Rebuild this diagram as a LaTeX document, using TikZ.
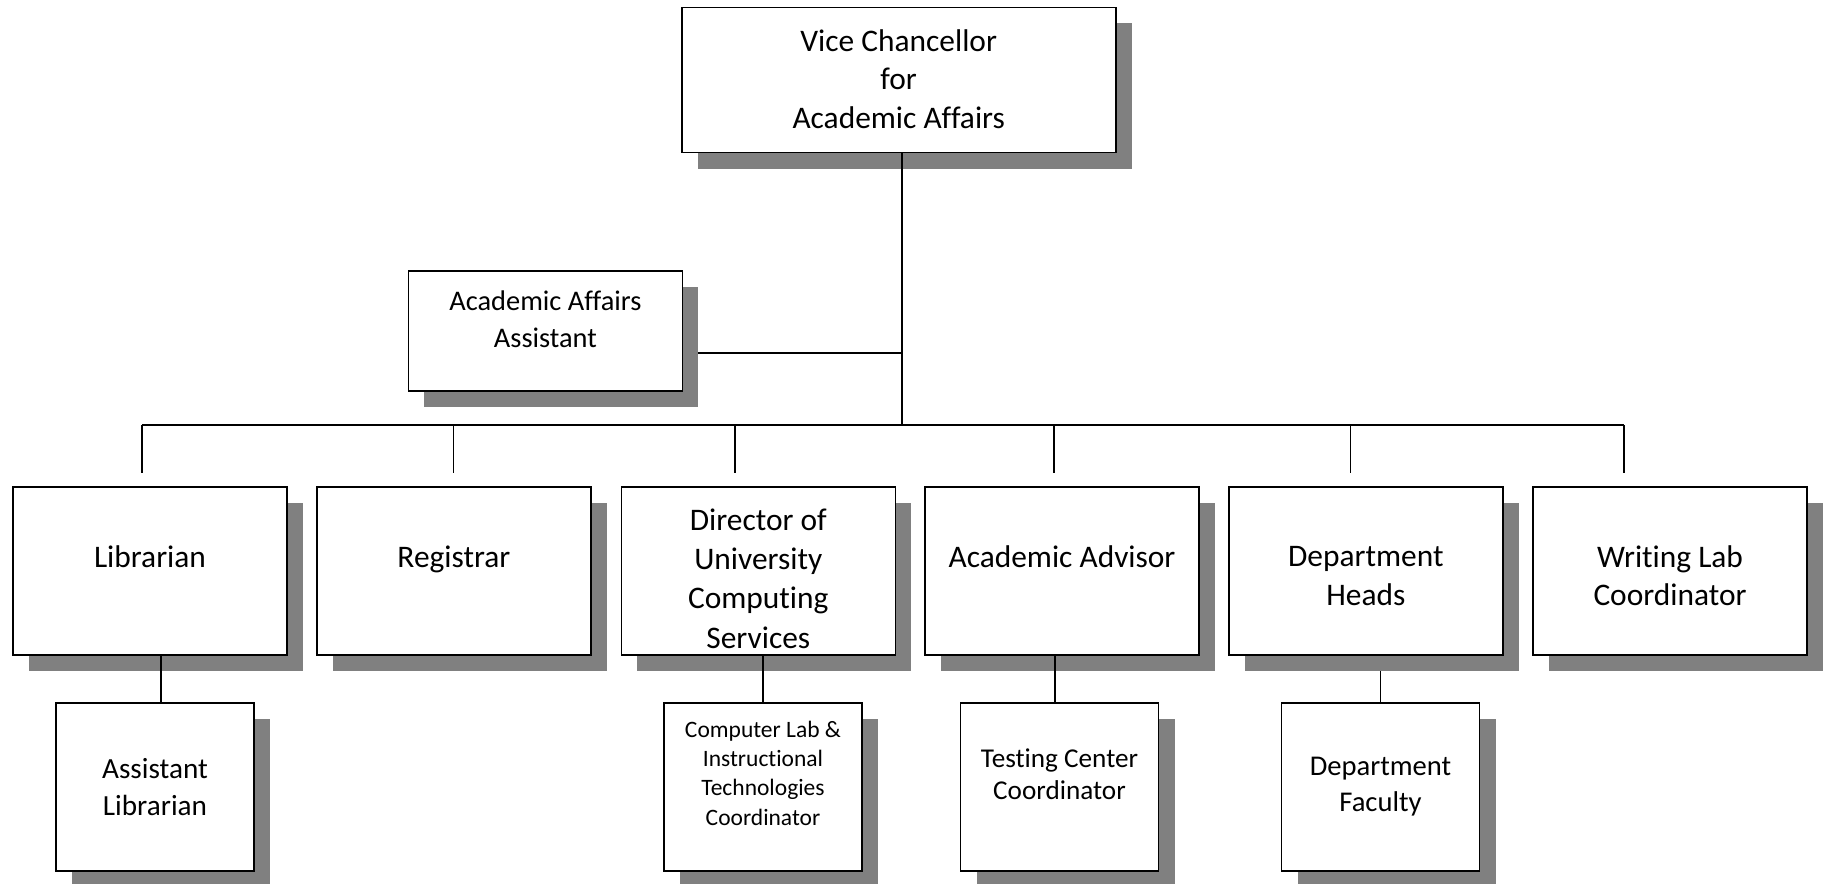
\documentclass[tikz,border=0pt]{standalone}
\usepackage{fontspec}
\setmainfont{Carlito}[Ligatures=NoCommon]
\usetikzlibrary{shadows,backgrounds}

\tikzset{
  post/.style={draw, line width=0.8pt, fill=white, align=center, inner sep=2pt,
    font=\fontsize{15.7pt}{19.25pt}\selectfont,
    drop shadow={shadow xshift=8pt, shadow yshift=-8pt, fill=black!50, opacity=1}},
  head/.style={post, minimum width=137pt, minimum height=84pt},
  sub/.style={post, minimum width=99pt, minimum height=84pt},
  link/.style={line width=0.7pt},
}

\begin{document}
\begin{tikzpicture}[x=0.5pt, y=-0.5pt]
    \useasboundingbox (0,0) rectangle (1824,883);

    \node[post, minimum width=217pt, minimum height=72.5pt, text depth=1pt] (vc) at (898.7,80)
      {Vice Chancellor\\for\\Academic Affairs};
    \node[post, minimum width=137pt, minimum height=60pt, text depth=12pt,
      font=\fontsize{14.2pt}{18.5pt}\selectfont] (aaa) at (545.4,331)
      {Academic Affairs\\Assistant};

    \node[head, text depth=14.5pt] (lib) at (150,571) {Librarian};
    \node[head, text depth=14.5pt] (reg) at (453.9,571) {Registrar};
    \node[head, font=\fontsize{15.7pt}{19.6pt}\selectfont, text height=77pt, text depth=0pt] (dir) at (758.3,571)
      {Director of\\University\\Computing\\Services};
    \node[head, text depth=14.5pt] (adv) at (1062,571) {Academic Advisor};
    \node[head, text height=34pt, text depth=0pt] (heads) at (1365.8,571) {Department\\Heads};
    \node[head, text height=34.7pt, text depth=0pt] (wlab) at (1670,571) {Writing Lab\\Coordinator};

    \node[sub, font=\fontsize{14.6pt}{18.3pt}\selectfont] (asstlib) at (155,787)
      {Assistant\\Librarian};
    \node[sub, font=\fontsize{11.75pt}{14.65pt}\selectfont, text depth=14pt] (complab) at (763,787)
      {Computer Lab \&\\Instructional\\Technologies\\Coordinator};
    \node[sub, font=\fontsize{13.6pt}{15.85pt}\selectfont, text depth=13pt] (testing) at (1059.5,787)
      {Testing Center\\Coordinator};
    \node[sub, font=\fontsize{14.3pt}{18pt}\selectfont] (faculty) at (1380.5,787)
      {Department\\Faculty};

    \coordinate (bus) at (902,425);
    \coordinate (aside) at (902,353);
    \coordinate (d1) at (142,473);
    \coordinate (d2) at (453.7,473);
    \coordinate (d3) at (735,473);
    \coordinate (d4) at (1054,473);
    \coordinate (d5) at (1350.6,473);
    \coordinate (d6) at (1624,473);
    \path (asstlib.north) ++(6,0) coordinate (al);
    \path (testing.north) ++(-4.5,0) coordinate (tc);

    \draw[link] (vc.south -| bus) -- (bus);
    \draw[link] (d1 |- bus) -- (d6 |- bus);
    \foreach \d in {1,...,6}
      \draw[link] (d\d |- bus) -- (d\d);
    \draw[link] (al) -- (al |- lib.south);
    \draw[link] (complab.north) -- (complab.north |- dir.south);
    \draw[link] (tc) -- (tc |- adv.south);
    \begin{pgfonlayer}{background}
      \draw[link] (aaa.east |- aside) -- (aside);
      \draw[link] (faculty.north) -- (faculty.north |- heads.south);
    \end{pgfonlayer}
\end{tikzpicture}
\end{document}
